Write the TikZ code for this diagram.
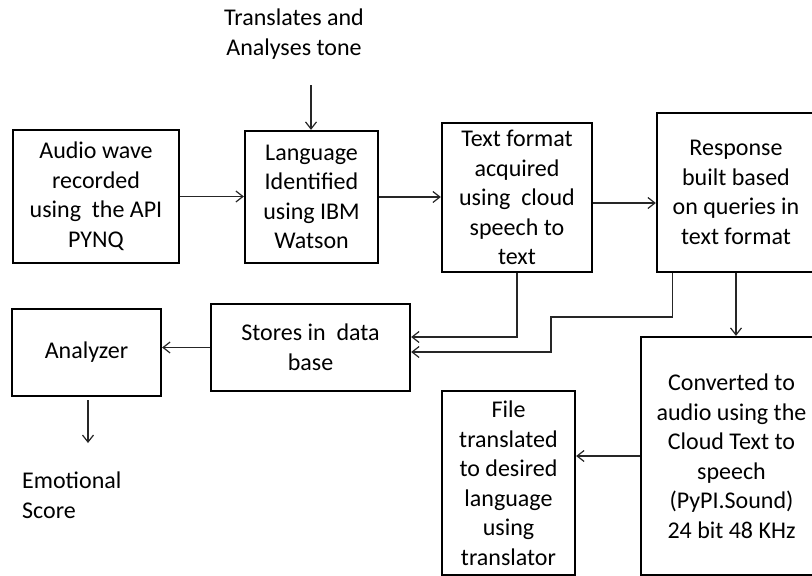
\documentclass[tikz,border=0pt]{standalone}
\usepackage{fontspec}
\setmainfont{Carlito}
\usetikzlibrary{arrows.meta,calc}
\begin{document}
\begin{tikzpicture}[x=1pt,y=-1pt,
  box/.style={draw=black,line width=2.3pt,inner sep=0pt,align=center,
    font=\fontsize{24}{29.5}\selectfont},
  txt/.style={inner sep=0pt,font=\fontsize{24}{29.5}\selectfont},
  arr/.style={draw=black!85,line width=1.2pt,-{Straight Barb[length=7pt,width=11pt]}}]
\clip (0,0) rectangle (812,576);
\fill[white] (0,0) rectangle (812,576);
% boxes
\node[box,minimum width=166pt,minimum height=133pt] (A) at (96,196.5)
  {Audio wave\\recorded\\using\ \ the API\\PYNQ};
\node[box,minimum width=133pt,minimum height=132pt] (L) at (311.5,197)
  {Language\\Identified\\using IBM\\Watson};
\node[box,minimum width=150pt,minimum height=149pt] (T) at (517,197.5)
  {Text format\\acquired\\using\ \ cloud\\speech to\\text};
\node[box,minimum width=158pt,minimum height=159pt] (R) at (736,192.5)
  {Response\\built based\\on queries in\\text format};
\node[box,minimum width=199pt,minimum height=87pt] (S) at (310.5,347.5)
  {Stores in\ \ data\\base};
\node[box,minimum width=149pt,minimum height=87pt] (An) at (86.5,352.5)
  {Analyzer};
\node[box,minimum width=181pt,minimum height=238pt] (C) at (731.5,456)
  {Converted to\\audio using the\\Cloud Text to\\speech\\(PyPI.Sound)\\24 bit 48 KHz};
\node[box,minimum width=133pt,minimum height=184pt] (F) at (508.5,483)
  {File\\translated\\to desired\\language\\using\\translator};
% free texts
\node[txt,align=center] (tr) at (294,34) {Translates and\\Analyses tone};
\node[txt,align=left,anchor=west] (es) at (22,495) {Emotional\\Score};
\coordinate (tin) at (311,85);
\coordinate (eout) at (88,443);
% connectors
\draw[arr] (tin) -- (tin |- L.north);
\draw[arr] (A.east) -- (A.east -| L.west);
\draw[arr] (L.east) -- (L.east -| T.west);
\draw[arr] ([yshift=-5.5pt]T.east) -- ([yshift=-5.5pt]T.east -| R.west);
\draw[arr] (T.south) |- ([yshift=10.5pt]S.east);
\draw[arr] ([xshift=17pt]R.south west) |- (551,317) |- ([yshift=-4.5pt]S.east);
\draw[arr] (R.south) -- (R.south |- C.north);
\draw[arr] (C.west) -- (C.west -| F.east);
\draw[arr] (S.west) -- (S.west -| An.east);
\draw[arr] (eout |- An.south) ++(0,3) -- (eout);
\end{tikzpicture}
\end{document}
